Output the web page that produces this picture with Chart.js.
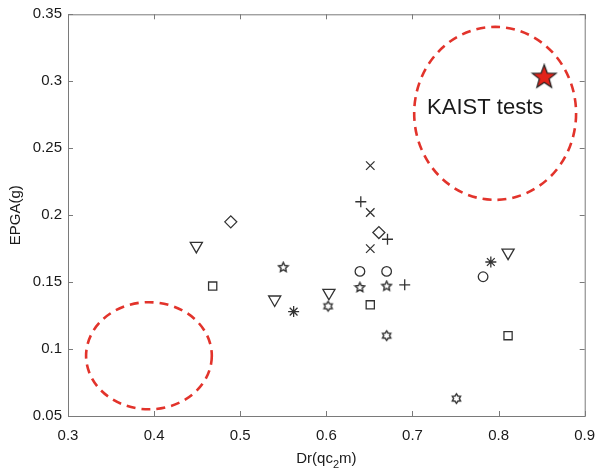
<!DOCTYPE html>
<html>
<head>
<meta charset="utf-8">
<script src="https://cdn.jsdelivr.net/npm/chart.js@4"></script>
<style>
  html, body { margin: 0; padding: 0; background: #fff; }
</style>
</head>
<body>
<canvas id="myChart" width="599" height="473"></canvas>
<script>
// tick labels
const xTicks = [0.3, 0.4, 0.5, 0.6, 0.7, 0.8, 0.9];
const yTicks = [0.05, 0.1, 0.15, 0.2, 0.25, 0.3, 0.35];

// series: Dr (x) and EPGA (y)
const triDr = [0.449, 0.540, 0.603, 0.811];
const triEpga = [0.177, 0.137, 0.142, 0.172];
const diaDr = [0.489, 0.661];
const diaEpga = [0.195, 0.187];
const sqDr = [0.468, 0.651, 0.811];
const sqEpga = [0.147, 0.133, 0.110];
const circDr = [0.639, 0.670, 0.782];
const circEpga = [0.158, 0.158, 0.154];
const plusDr = [0.640, 0.671, 0.691];
const plusEpga = [0.210, 0.182, 0.148];
const xDr = [0.651, 0.651, 0.651];
const xEpga = [0.237, 0.202, 0.175];
const astDr = [0.562, 0.791];
const astEpga = [0.128, 0.165];
const pentDr = [0.550, 0.639, 0.670];
const pentEpga = [0.161, 0.146, 0.147];
const hexDr = [0.602, 0.670, 0.751];
const hexEpga = [0.132, 0.110, 0.063];
const kaistDr = [0.853];
const kaistEpga = [0.303];

// dashed zones (centre and radius in data units)
const zoneDr = [0.394, 0.796];
const zoneEpga = [0.095, 0.276];
const zoneRDr = [0.073, 0.094];
const zoneREpga = [0.040, 0.0646];

const ink = '#333';

function pts(xs, ys) {
  return xs.map((v, i) => ({ x: v, y: ys[i] }));
}

// small canvases for markers chart.js doesn't have
function starIcon(size, points, rOut, rIn, fill, stroke, lw) {
  const c = document.createElement('canvas');
  c.width = size; c.height = size;
  const g = c.getContext('2d');
  const m = size / 2;
  g.beginPath();
  for (let i = 0; i < points * 2; i++) {
    const r = i % 2 === 0 ? rOut : rIn;
    const a = -Math.PI / 2 + i * Math.PI / points;
    const px = m + r * Math.cos(a), py = m + r * Math.sin(a);
    if (i === 0) g.moveTo(px, py); else g.lineTo(px, py);
  }
  g.closePath();
  if (fill) { g.fillStyle = fill; g.fill(); }
  g.strokeStyle = stroke; g.lineWidth = lw;
  g.stroke();
  return c;
}

const pentIcon = starIcon(13, 5, 5, 2.4, null, ink, 1.4);
const hexIcon = starIcon(13, 6, 4.8, 2.9, null, ink, 1.4);
const kaistIcon = starIcon(28, 5, 12.5, 5.2, '#e2231a', '#222', 1.2);

function set(label, data, style, radius, rotation) {
  return {
    label: label,
    data: data,
    pointStyle: style,
    pointRadius: radius,
    pointHoverRadius: radius,
    rotation: rotation || 0,
    borderColor: ink,
    backgroundColor: 'rgba(0,0,0,0)',
    pointBorderWidth: 1.3,
    showLine: false
  };
}

const fmt = v => String(parseFloat(v.toFixed(2)));

const decor = {
  id: 'decor',
  beforeDatasetsDraw(chart) {
    const { ctx, scales: { x, y } } = chart;
    ctx.save();
    ctx.strokeStyle = '#e2332b';
    ctx.lineWidth = 2.6;
    ctx.setLineDash([9, 6]);
    zoneDr.forEach((d, i) => {
      const cx = x.getPixelForValue(d), cy = y.getPixelForValue(zoneEpga[i]);
      const rx = Math.abs(x.getPixelForValue(d + zoneRDr[i]) - cx);
      const ry = Math.abs(y.getPixelForValue(zoneEpga[i] + zoneREpga[i]) - cy);
      ctx.beginPath();
      ctx.ellipse(cx, cy, rx, ry, 0, 0, Math.PI * 2);
      ctx.stroke();
    });
    ctx.restore();
  },
  afterDraw(chart) {
    const { ctx, chartArea: a, scales: { x, y } } = chart;
    ctx.save();
    // box and inward ticks
    ctx.strokeStyle = '#7a7a7a';
    ctx.lineWidth = 1;
    ctx.strokeRect(a.left + 0.5, a.top + 0.5, a.right - a.left, a.bottom - a.top);
    ctx.beginPath();
    xTicks.forEach(v => {
      const px = Math.round(x.getPixelForValue(v)) + 0.5;
      ctx.moveTo(px, a.bottom); ctx.lineTo(px, a.bottom - 5);
      ctx.moveTo(px, a.top); ctx.lineTo(px, a.top + 5);
    });
    yTicks.forEach(v => {
      const py = Math.round(y.getPixelForValue(v)) + 0.5;
      ctx.moveTo(a.left, py); ctx.lineTo(a.left + 5, py);
      ctx.moveTo(a.right, py); ctx.lineTo(a.right - 5, py);
    });
    ctx.stroke();

    // annotation
    ctx.fillStyle = '#1a1a1a';
    ctx.font = '22px "Liberation Sans", Arial, sans-serif';
    ctx.textBaseline = 'alphabetic';
    ctx.textAlign = 'left';
    ctx.fillText('KAIST tests', x.getPixelForValue(0.717), y.getPixelForValue(0.2755));

    // axis titles
    ctx.font = '15px "Liberation Sans", Arial, sans-serif';
    const midX = (a.left + a.right) / 2;
    const t1 = 'Dr(qc', t2 = '2', t3 = 'm)';
    const w1 = ctx.measureText(t1).width, w3 = ctx.measureText(t3).width;
    ctx.font = '11px "Liberation Sans", Arial, sans-serif';
    const w2 = ctx.measureText(t2).width;
    const sx = midX - (w1 + w2 + w3) / 2;
    const base = 463;
    ctx.font = '15px "Liberation Sans", Arial, sans-serif';
    ctx.fillText(t1, sx, base);
    ctx.font = '11px "Liberation Sans", Arial, sans-serif';
    ctx.fillText(t2, sx + w1, base + 5);
    ctx.font = '15px "Liberation Sans", Arial, sans-serif';
    ctx.fillText(t3, sx + w1 + w2, base);

    ctx.translate(20, (a.top + a.bottom) / 2);
    ctx.rotate(-Math.PI / 2);
    ctx.textAlign = 'center';
    ctx.fillText('EPGA(g)', 0, 0);
    ctx.restore();
  }
};

const myChart = new Chart(document.getElementById('myChart').getContext('2d'), {
  type: 'scatter',
  data: {
    datasets: [
      set('triangle', pts(triDr, triEpga), 'triangle', 7, 180),
      set('diamond', pts(diaDr, diaEpga), 'rectRot', 6),
      set('square', pts(sqDr, sqEpga), 'rect', 5.8),
      set('circle', pts(circDr, circEpga), 'circle', 4.8),
      set('plus', pts(plusDr, plusEpga), 'cross', 5.5),
      set('cross', pts(xDr, xEpga), 'crossRot', 6),
      set('asterisk', pts(astDr, astEpga), 'star', 5.5),
      set('pentagram', pts(pentDr, pentEpga), pentIcon, 6),
      set('hexagram', pts(hexDr, hexEpga), hexIcon, 6),
      set('KAIST', pts(kaistDr, kaistEpga), kaistIcon, 13)
    ]
  },
  options: {
    responsive: false,
    animation: false,
    layout: { padding: { top: 10, right: 14, left: 0, bottom: 0 } },
    plugins: {
      legend: { display: false },
      tooltip: { enabled: false }
    },
    scales: {
      x: {
        type: 'linear',
        min: 0.3,
        max: 0.9,
        afterFit: s => { s.height = 57; s.paddingLeft = 0; s.paddingRight = 0; },
        afterBuildTicks: s => { s.ticks = xTicks.map(v => ({ value: v })); },
        grid: { display: false, drawTicks: false },
        border: { display: false },
        ticks: {
          padding: 11,
          color: '#1a1a1a',
          font: { family: '"Liberation Sans", Arial, sans-serif', size: 15 },
          callback: v => fmt(v)
        }
      },
      y: {
        type: 'linear',
        min: 0.05,
        max: 0.35,
        afterFit: s => { s.width = 68; s.paddingTop = 0; s.paddingBottom = 0; },
        afterBuildTicks: s => { s.ticks = yTicks.map(v => ({ value: v })); },
        grid: { display: false, drawTicks: false },
        border: { display: false },
        ticks: {
          padding: 6,
          color: '#1a1a1a',
          font: { family: '"Liberation Sans", Arial, sans-serif', size: 15 },
          callback: v => fmt(v)
        }
      }
    }
  },
  plugins: [decor]
});
</script>
</body>
</html>
